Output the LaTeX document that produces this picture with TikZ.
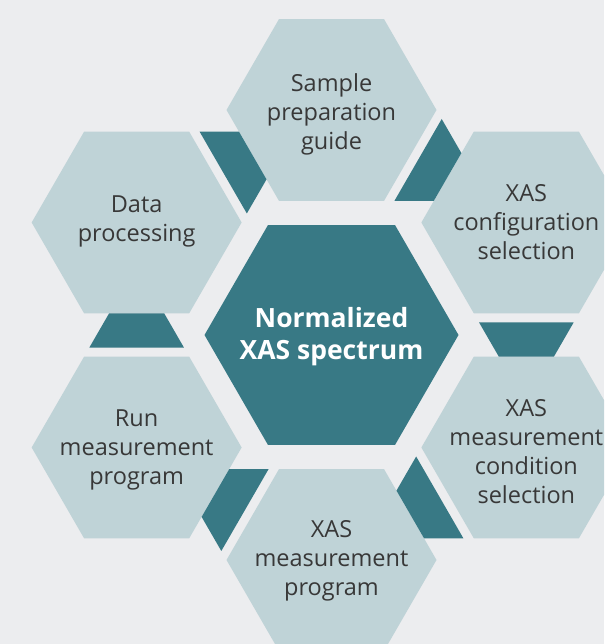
\documentclass[tikz,border=0pt]{standalone}
\usepackage{fontspec}
\setmainfont{Open Sans}
\usetikzlibrary{shapes.geometric,calc}

\definecolor{bgGray}{HTML}{ECEDEF}
\definecolor{cellBlue}{HTML}{BFD3D7}
\definecolor{darkTeal}{HTML}{387985}
\definecolor{labelGray}{HTML}{383838}

\begin{document}
\begin{tikzpicture}[x=1pt, y=1pt,
    cell/.style={regular polygon, regular polygon sides=6, fill=cellBlue,
      minimum size=210pt, inner sep=0pt},
    hub/.style={regular polygon, regular polygon sides=6, fill=darkTeal,
      minimum size=254pt, inner sep=0pt},
    celltext/.style={text=labelGray, align=center,
      font=\fontsize{23.5}{29}\selectfont},
    hubtext/.style={text=white, align=center,
      font=\bfseries\fontsize{26.5}{32}\selectfont},
    link/.style={fill=darkTeal}]
  \fill[bgGray] (0,0) rectangle (604,644);
  \clip (0,0) rectangle (604,644);

  \coordinate (c) at (331.5,309);

  % centre piece
  \node[hub] (hub) at (c) {};
  \node[hubtext] (hubLabel) at ([yshift=-2]hub.center) {Normalized\\XAS spectrum};

  % ring of steps, clockwise from the top
  \node[cell] (sample) at ($(c)+(90:225)$) {};
  \node[cell] (config) at ($(c)+(30:225)$) {};
  \node[cell] (cond) at ($(c)+(-30:225)$) {};
  \node[cell] (prog) at ($(c)+(-90:225)$) {};
  \node[cell] (run) at ($(c)+(-150:225)$) {};
  \node[cell] (data) at ($(c)+(150:225)$) {};

  \node[celltext] (sampleLabel) at ([yshift=-4]sample.center) {Sample\\preparation\\guide};
  \node[celltext] (configLabel) at (config.center) {XAS\\configuration\\selection};
  \node[celltext] (condLabel) at ([yshift=-4]cond.center) {XAS\\measurement\\condition\\selection};
  \node[celltext] (progLabel) at ([yshift=-1]prog.center) {XAS\\measurement\\program};
  \node[celltext] (runLabel) at ([yshift=-2]run.center) {Run\\measurement\\program};
  \node[celltext] (dataLabel) at ([yshift=1]data.center) {Data\\processing};

  % links: each cell's side edges run on into the gap up to the next cell
  \foreach \n/\p in {data/30, sample/-30, config/-90, cond/-150, prog/150, run/90}
    \fill[link] ($(\n.center)+(\p-90:105)!1.099!(\p-30:105)$)
      -- ($(\n.center)+(\p-90:105)!1.474!(\p-30:105)$)
      -- ($(\n.center)+(\p+90:105)!1.474!(\p+30:105)$)
      -- ($(\n.center)+(\p+90:105)!1.099!(\p+30:105)$) -- cycle;
\end{tikzpicture}
\end{document}
